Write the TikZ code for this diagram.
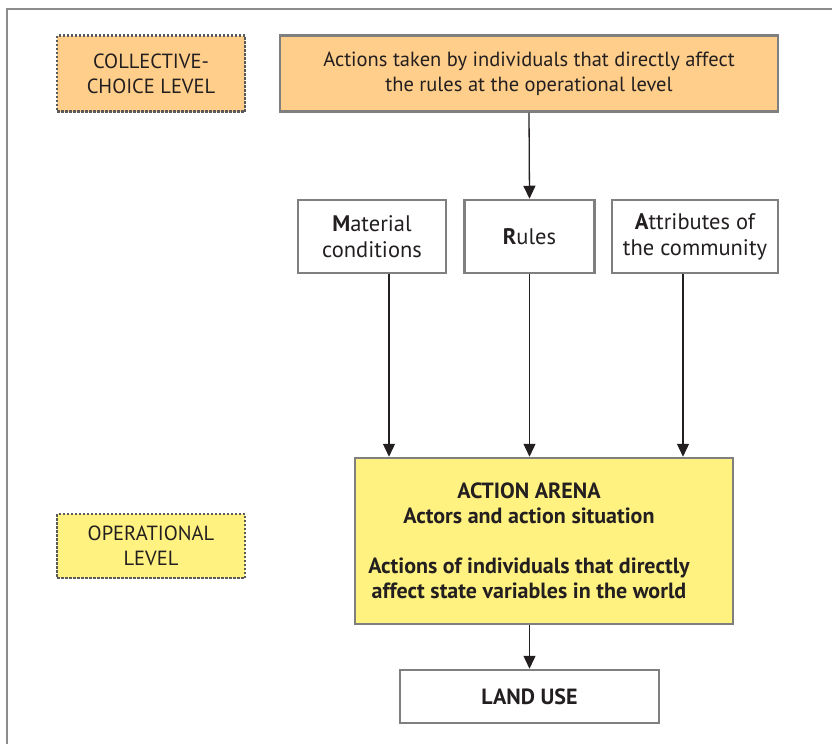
\documentclass[tikz,border=0pt]{standalone}
\usepackage{fontspec}
\setmainfont{PT Sans}
\usetikzlibrary{arrows.meta}
\definecolor{orangefill}{HTML}{FFCE8A}
\definecolor{yellowfill}{HTML}{FFF280}
\definecolor{bordergray}{HTML}{7F7F7F}
\definecolor{dotgray}{HTML}{5A5A5A}
\definecolor{textc}{HTML}{231F20}
\tikzset{
  box/.style={draw=bordergray, line width=2.5pt, inner sep=0pt, align=center, text=textc,
    font=\fontsize{20.5}{25}\selectfont},
  midbox/.style={box, font=\fontsize{22.5}{26}\selectfont},
  boldtext/.style={font=\bfseries\fontsize{22}{25}\selectfont},
  levelbox/.style={draw=dotgray, line width=2.5pt, dash pattern=on 2.5pt off 1.5pt,
    inner sep=0pt, align=center, text=textc, font=\fontsize{20.5}{25}\selectfont},
  arr/.style={-{Triangle[length=13pt,width=12pt]}, line width=1.3pt, draw=textc},
}
\begin{document}
\begin{tikzpicture}[x=1pt,y=-1pt]
\useasboundingbox (0,0) rectangle (832,744);
\draw[draw=bordergray!90, line width=2pt] (7,744) -- (7,9) -- (832,9);

\node[levelbox, fill=orangefill, minimum width=188pt, minimum height=76pt] (coll) at (151,73.5)
  {COLLECTIVE-\\CHOICE LEVEL};
\node[box, fill=orangefill, minimum width=498pt, minimum height=76pt] (top) at (529,73.5)
  {Actions taken by individuals that directly affect\\the rules at the operational level};

\node[midbox, minimum width=148pt, minimum height=73pt] (mat) at (372,236.5)
  {\textbf{M}aterial\\conditions};
\node[midbox, minimum width=130pt, minimum height=73pt] (rules) at (529.5,236.5)
  {\textbf{R}ules};
\node[midbox, minimum width=166pt, minimum height=73pt] (attr) at (695,236.5)
  {\textbf{A}ttributes of\\the community};

\node[levelbox, fill=yellowfill, minimum width=188pt, minimum height=64pt] (oper) at (151,546)
  {OPERATIONAL\\LEVEL};

\node[box, fill=yellowfill, minimum width=378pt, minimum height=166pt] (arena) at (544,541) {};
\node[align=center, text=textc, boldtext, inner sep=0pt]
  (arenatext) at (529,541)
  {ACTION ARENA\\Actors and action situation\\[25pt]Actions of individuals that directly\\affect state variables in the world};

\node[box, boldtext, minimum width=259pt, minimum height=53pt] (land) at (529.5,696.5)
  {LAND USE};

\draw[arr] (top.south) -- (rules.north);
\draw[arr] ([xshift=17pt]mat.south) -- ([xshift=17pt]mat.south |- arena.north);
\draw[arr] (rules.south) -- (rules.south |- arena.north);
\draw[arr] ([xshift=-12pt]attr.south) -- ([xshift=-12pt]attr.south |- arena.north);
\draw[arr] (land.north |- arena.south) -- (land.north);
\end{tikzpicture}
\end{document}
